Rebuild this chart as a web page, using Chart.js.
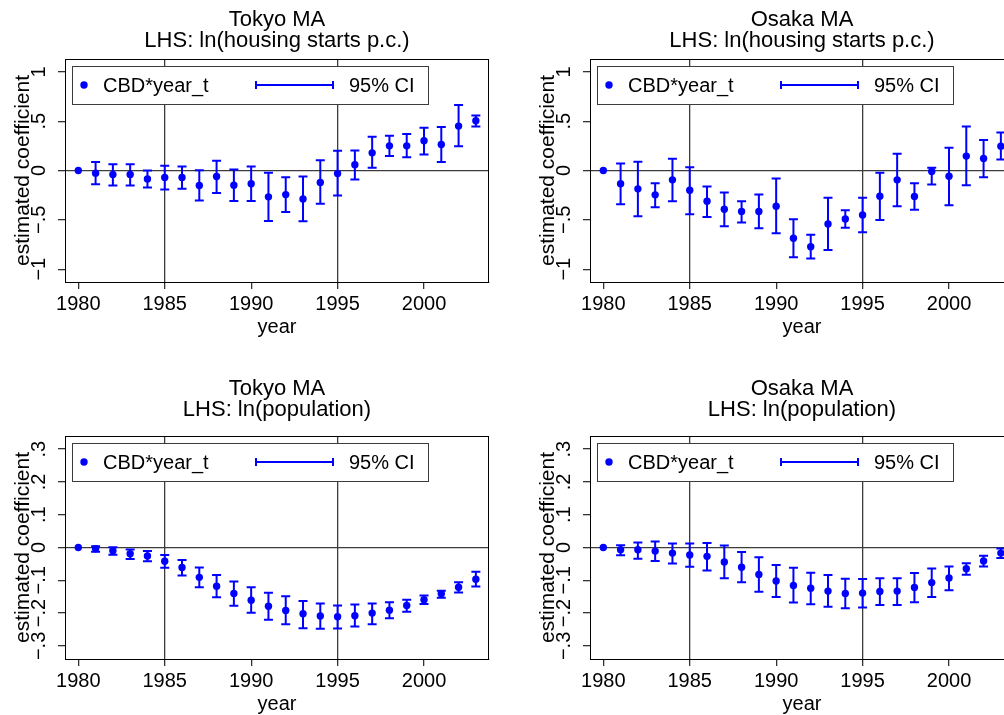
<!DOCTYPE html>
<html>
<head>
<meta charset="utf-8">
<script src="https://cdn.jsdelivr.net/npm/chart.js@4.4.1/dist/chart.umd.min.js"></script>
<style>
  body { margin: 0; background: #fff; overflow: hidden; width: 1004px; height: 715px; position: relative; }
  .panel { position: absolute; width: 525px; height: 377px; }
</style>
</head>
<body>
<div class="panel" style="left:0;top:0"><canvas id="tokyoHousing"></canvas></div>
<div class="panel" style="left:525px;top:0"><canvas id="osakaHousing"></canvas></div>
<div class="panel" style="left:0;top:377px"><canvas id="tokyoPop"></canvas></div>
<div class="panel" style="left:525px;top:377px"><canvas id="osakaPop"></canvas></div>
<script>
const years = [1980, 1981, 1982, 1983, 1984, 1985, 1986, 1987, 1988, 1989, 1990, 1991,
               1992, 1993, 1994, 1995, 1996, 1997, 1998, 1999, 2000, 2001, 2002, 2003];
const yearTicks = [1980, 1985, 1990, 1995, 2000];
const housingTicks = [-1, -0.5, 0, 0.5, 1];
const popTicks = [-0.3, -0.2, -0.1, 0, 0.1, 0.2, 0.3];

// Tokyo, ln(housing starts p.c.)
const tokyoHousing   = [0, -0.027, -0.04, -0.04, -0.085, -0.071, -0.071, -0.152, -0.061, -0.149, -0.135, -0.267,
                        -0.244, -0.288, -0.122, -0.03, 0.058, 0.179, 0.25, 0.25, 0.301, 0.264, 0.45, 0.504];
const tokyoHousingLo = [null, -0.139, -0.152, -0.152, -0.173, -0.193, -0.186, -0.305, -0.227, -0.308, -0.308, -0.511,
                        -0.42, -0.514, -0.338, -0.254, -0.091, 0.027, 0.146, 0.135, 0.162, 0.085, 0.247, 0.447];
const tokyoHousingHi = [null, 0.085, 0.064, 0.064, 0, 0.047, 0.041, 0.003, 0.098, 0.01, 0.041, -0.024,
                        -0.068, -0.061, 0.105, 0.2, 0.203, 0.342, 0.352, 0.369, 0.433, 0.44, 0.663, 0.558];

// Osaka, ln(housing starts p.c.)
const osakaHousing   = [0, -0.135, -0.186, -0.247, -0.095, -0.2, -0.311, -0.393, -0.416, -0.416, -0.362, -0.687,
                        -0.772, -0.541, -0.491, -0.45, -0.26, -0.095, -0.264, -0.01, -0.058, 0.146, 0.122, 0.247];
const osakaHousingLo = [null, -0.342, -0.464, -0.372, -0.311, -0.443, -0.47, -0.565, -0.528, -0.585, -0.636, -0.88,
                        -0.893, -0.805, -0.579, -0.626, -0.501, -0.362, -0.399, -0.142, -0.352, -0.149, -0.068, 0.112];
const osakaHousingHi = [null, 0.071, 0.088, -0.129, 0.118, 0.034, -0.162, -0.223, -0.311, -0.244, -0.081, -0.494,
                        -0.65, -0.277, -0.403, -0.277, -0.024, 0.169, -0.129, 0.027, 0.23, 0.447, 0.308, 0.386];

// Tokyo, ln(population)
const tokyoPop   = [0, -0.004, -0.01, -0.019, -0.026, -0.042, -0.061, -0.091, -0.118, -0.14, -0.161, -0.179,
                    -0.192, -0.202, -0.209, -0.211, -0.208, -0.2, -0.191, -0.177, -0.159, -0.141, -0.121, -0.097];
const tokyoPopLo = [null, -0.013, -0.022, -0.035, -0.042, -0.062, -0.085, -0.121, -0.152, -0.178, -0.199, -0.22,
                    -0.234, -0.246, -0.248, -0.247, -0.241, -0.234, -0.216, -0.196, -0.172, -0.153, -0.137, -0.119];
const tokyoPopHi = [null, 0.004, 0.001, -0.006, -0.011, -0.023, -0.038, -0.061, -0.084, -0.104, -0.121, -0.138,
                    -0.149, -0.163, -0.171, -0.177, -0.174, -0.171, -0.167, -0.159, -0.146, -0.132, -0.106, -0.074];

// Osaka, ln(population)
const osakaPop   = [0, -0.007, -0.007, -0.011, -0.017, -0.023, -0.027, -0.044, -0.06, -0.082, -0.102, -0.116,
                    -0.124, -0.133, -0.14, -0.139, -0.134, -0.133, -0.122, -0.107, -0.093, -0.065, -0.041, -0.017];
const osakaPopLo = [null, -0.024, -0.034, -0.041, -0.049, -0.059, -0.07, -0.094, -0.106, -0.135, -0.151, -0.168,
                    -0.173, -0.181, -0.185, -0.183, -0.175, -0.175, -0.167, -0.151, -0.13, -0.083, -0.058, -0.032];
const osakaPopHi = [null, 0.007, 0.015, 0.018, 0.012, 0.012, 0.014, 0.006, -0.014, -0.03, -0.053, -0.062,
                    -0.077, -0.084, -0.095, -0.096, -0.094, -0.094, -0.078, -0.064, -0.058, -0.048, -0.025, -0.003];

const FONT = "'Liberation Sans', Arial, Helvetica, sans-serif";
const BLUE = '#0000ff';
const GRID = '#3c3c3c';

function fmtTick(v) {
    let r = Math.round(v * 100) / 100;
    if (r === 0) return '0';
    let s = String(Math.abs(r)).replace(/^0\./, '.');
    return (r < 0 ? '\u2212' : '') + s;
}

// error bars, plot frame, titles, rotated y labels, legend
const panelDecor = {
    id: 'panelDecor',
    beforeDatasetsDraw(chart) {
        const ctx = chart.ctx;
        const xs = chart.scales.x, ys = chart.scales.y;
        const ds = chart.data.datasets[0];
        ctx.save();
        ctx.strokeStyle = BLUE;
        ctx.lineWidth = 2;
        ds.data.forEach(function (p, i) {
            if (ds.ciLo[i] == null) return;
            const px = xs.getPixelForValue(p.x);
            const y1 = ys.getPixelForValue(ds.ciLo[i]);
            const y2 = ys.getPixelForValue(ds.ciHi[i]);
            ctx.beginPath();
            ctx.moveTo(px, y1); ctx.lineTo(px, y2);
            ctx.moveTo(px - 4.5, y1); ctx.lineTo(px + 4.5, y1);
            ctx.moveTo(px - 4.5, y2); ctx.lineTo(px + 4.5, y2);
            ctx.stroke();
        });
        ctx.restore();
    },
    afterDraw(chart, args, opts) {
        const ctx = chart.ctx;
        const ca = chart.chartArea;
        const ys = chart.scales.y;
        ctx.save();

        // frame
        ctx.strokeStyle = '#000';
        ctx.lineWidth = 1;
        ctx.strokeRect(ca.left + 0.5, ca.top + 0.5, ca.right - ca.left - 1, ca.bottom - ca.top);

        // titles
        ctx.fillStyle = '#000';
        ctx.textAlign = 'center';
        ctx.textBaseline = 'middle';
        ctx.font = '22px ' + FONT;
        const cx = (ca.left + ca.right) / 2;
        ctx.fillText(opts.title[0], cx, ca.top - opts.titleGap - 21);
        ctx.fillText(opts.title[1], cx, ca.top - opts.titleGap);

        // rotated y tick labels
        ctx.font = '20px ' + FONT;
        ys.ticks.forEach(function (t) {
            const py = ys.getPixelForValue(t.value);
            ctx.save();
            ctx.translate(ca.left - 26, py);
            ctx.rotate(-Math.PI / 2);
            ctx.fillText(fmtTick(t.value), 0, 0);
            ctx.restore();
        });

        // legend box
        const lx = ca.left + 7, ly = ca.top + 7, lw = 356, lh = 38;
        ctx.fillStyle = '#fff';
        ctx.fillRect(lx, ly, lw, lh);
        ctx.strokeStyle = GRID;
        ctx.strokeRect(lx + 0.5, ly + 0.5, lw, lh);
        const my = ly + lh / 2;
        ctx.fillStyle = BLUE;
        ctx.beginPath();
        ctx.arc(ca.left + 19, my, 3.7, 0, Math.PI * 2);
        ctx.fill();
        ctx.strokeStyle = BLUE;
        ctx.lineWidth = 2;
        ctx.beginPath();
        ctx.moveTo(ca.left + 191, my); ctx.lineTo(ca.left + 268, my);
        ctx.moveTo(ca.left + 191, my - 4); ctx.lineTo(ca.left + 191, my + 4);
        ctx.moveTo(ca.left + 268, my - 4); ctx.lineTo(ca.left + 268, my + 4);
        ctx.stroke();
        ctx.fillStyle = '#000';
        ctx.textAlign = 'left';
        ctx.fillText('CBD*year_t', ca.left + 38, my + 1);
        ctx.fillText('95% CI', ca.left + 284, my + 1);

        ctx.restore();
    }
};

function drawPanel(id, title, titleGap, vals, lo, hi, yTicks, yLim) {
    const ctx = document.getElementById(id);
    new Chart(ctx, {
        type: 'scatter',
        data: {
            datasets: [{
                label: 'CBD*year_t',
                data: years.map(function (yr, i) { return { x: yr, y: vals[i] }; }),
                ciLo: lo,
                ciHi: hi,
                backgroundColor: BLUE,
                borderWidth: 0,
                pointRadius: 3.7
            }]
        },
        options: {
            responsive: true,
            maintainAspectRatio: false,
            animation: false,
            layout: { padding: { top: 59, right: 36, bottom: 0, left: 0 } },
            plugins: {
                legend: { display: false },
                tooltip: { enabled: false },
                panelDecor: { title: title, titleGap: titleGap }
            },
            scales: {
                x: {
                    type: 'linear',
                    min: 1979.23,
                    max: 2003.76,
                    afterFit: function (s) { s.height = 95; },
                    afterBuildTicks: function (s) { s.ticks = yearTicks.map(function (v) { return { value: v }; }); },
                    border: { color: '#000', width: 1 },
                    grid: {
                        color: function (c) { return c.tick && (c.tick.value === 1985 || c.tick.value === 1995) ? GRID : 'rgba(0,0,0,0)'; },
                        tickColor: '#333',
                        tickLength: 7,
                        lineWidth: 1.3
                    },
                    ticks: {
                        color: '#000',
                        font: { family: FONT, size: 20 },
                        padding: 3,
                        maxRotation: 0,
                        autoSkip: false,
                        callback: function (v) { return String(v); }
                    },
                    title: {
                        display: true,
                        text: 'year',
                        color: '#000',
                        font: { family: FONT, size: 20 },
                        padding: { top: 0, bottom: 38 }
                    }
                },
                y: {
                    min: -yLim,
                    max: yLim,
                    afterFit: function (s) { s.width = 65; },
                    afterBuildTicks: function (s) { s.ticks = yTicks.map(function (v) { return { value: v }; }); },
                    border: { color: '#000', width: 1 },
                    grid: {
                        color: function (c) { return c.tick && Math.abs(c.tick.value) < 1e-9 ? GRID : 'rgba(0,0,0,0)'; },
                        tickColor: '#333',
                        tickLength: 7,
                        lineWidth: 1.3
                    },
                    ticks: {
                        color: 'rgba(0,0,0,0)',
                        font: { family: FONT, size: 20 },
                        callback: function (v) { return fmtTick(v); }
                    },
                    title: {
                        display: true,
                        text: 'estimated coefficient',
                        color: '#000',
                        font: { family: FONT, size: 21 },
                        padding: { top: 11, bottom: 0 }
                    }
                }
            }
        },
        plugins: [panelDecor]
    });
}

drawPanel('tokyoHousing', ['Tokyo MA', 'LHS: ln(housing starts p.c.)'], 18, tokyoHousing, tokyoHousingLo, tokyoHousingHi, housingTicks, 1.13);
drawPanel('osakaHousing', ['Osaka MA', 'LHS: ln(housing starts p.c.)'], 18, osakaHousing, osakaHousingLo, osakaHousingHi, housingTicks, 1.13);
drawPanel('tokyoPop', ['Tokyo MA', 'LHS: ln(population)'], 26, tokyoPop, tokyoPopLo, tokyoPopHi, popTicks, 0.34);
drawPanel('osakaPop', ['Osaka MA', 'LHS: ln(population)'], 26, osakaPop, osakaPopLo, osakaPopHi, popTicks, 0.34);
</script>
</body>
</html>
